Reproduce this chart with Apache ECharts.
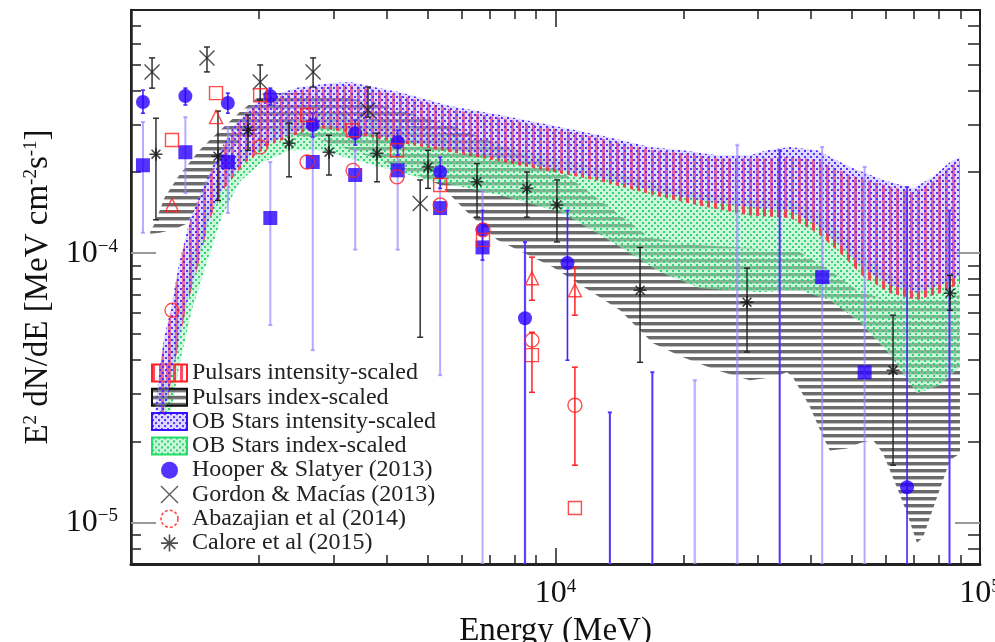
<!DOCTYPE html>
<html><head><meta charset="utf-8">
<script src="https://cdn.jsdelivr.net/npm/echarts@6/dist/echarts.min.js"></script>
<style>html,body{margin:0;padding:0;background:#fff}#c{width:995px;height:642px}</style>
</head><body><div id="c"></div>
<script>
// ---------------- tick values ----------------
const xMajorTicks = [10000, 100000];
const xMinorTicks = [2000,3000,4000,5000,6000,7000,8000,9000,20000,30000,40000,50000,60000,70000,80000,90000];
const yMajorTicks = [1e-5, 1e-4];
const yMinorTicks = [8e-6,9e-6,2e-5,3e-5,4e-5,5e-5,6e-5,7e-5,8e-5,9e-5,2e-4,3e-4,4e-4,5e-4,6e-4,7e-4];

// ---------------- bands [E (MeV), E^2 dN/dE] ----------------
const pulsarIntUpper = [[1150,2.61e-5],[1170,3.73e-5],[1200,4.83e-5],[1240,5.98e-5],[1300,9.03e-5],[1380,1.32e-4],[1450,1.60e-4],[1590,2.21e-4],[1740,2.87e-4],[1905,3.40e-4],[2090,3.71e-4],[2280,3.86e-4],[2500,4.04e-4],[2940,4.17e-4],[3280,4.21e-4],[3860,4.00e-4],[4300,3.86e-4],[5640,3.43e-4],[7400,3.18e-4],[10250,2.87e-4],[12730,2.67e-4],[16700,2.42e-4],[19970,2.35e-4],[24000,2.25e-4],[28700,2.25e-4],[31500,2.25e-4],[35700,2.28e-4],[41300,2.22e-4],[49400,1.95e-4],[59100,1.80e-4],[69500,1.68e-4],[77500,1.85e-4],[85000,2.10e-4],[89700,2.20e-4]];
const pulsarIntLower = [[1200,2.50e-5],[1260,3.73e-5],[1340,5.98e-5],[1440,9.03e-5],[1535,1.35e-4],[1665,1.75e-4],[1855,2.16e-4],[2125,2.52e-4],[2500,2.79e-4],[2790,2.92e-4],[4300,2.57e-4],[7400,2.19e-4],[12730,1.85e-4],[17630,1.62e-4],[21900,1.50e-4],[28700,1.38e-4],[35700,1.35e-4],[41300,1.19e-4],[46800,1.00e-4],[53000,8.2e-5],[61400,7.1e-5],[71050,6.7e-5],[80500,7.1e-5],[89700,7.7e-5]];

const obIntUpper = [[1140,2.61e-5],[1170,3.83e-5],[1200,4.95e-5],[1240,6.13e-5],[1300,9.26e-5],[1380,1.35e-4],[1450,1.64e-4],[1590,2.27e-4],[1740,2.94e-4],[1905,3.49e-4],[2090,3.80e-4],[2280,3.96e-4],[2500,4.14e-4],[2940,4.28e-4],[3280,4.32e-4],[3860,4.10e-4],[4300,3.96e-4],[5640,3.52e-4],[7400,3.26e-4],[10250,2.94e-4],[12730,2.74e-4],[16700,2.48e-4],[19970,2.41e-4],[24000,2.31e-4],[28700,2.31e-4],[31500,2.41e-4],[35700,2.48e-4],[41300,2.41e-4],[49400,2.09e-4],[59100,1.87e-4],[69500,1.74e-4],[77500,1.92e-4],[85000,2.18e-4],[89700,2.27e-4]];
const obIntLower = [[1200,2.56e-5],[1260,3.83e-5],[1340,6.13e-5],[1440,9.26e-5],[1535,1.38e-4],[1665,1.79e-4],[1855,2.22e-4],[2125,2.58e-4],[2500,2.86e-4],[2790,2.99e-4],[4300,2.63e-4],[7400,2.25e-4],[12730,1.90e-4],[17630,1.68e-4],[21900,1.57e-4],[28700,1.48e-4],[35700,1.44e-4],[41300,1.27e-4],[46800,1.07e-4],[53000,8.79e-5],[61400,7.60e-5],[71050,7.16e-5],[80500,7.60e-5],[89700,8.27e-5]];

const obIdxUpper = [[1170,2.56e-5],[1220,3.83e-5],[1290,6.13e-5],[1380,9.26e-5],[1480,1.38e-4],[1590,1.87e-4],[1805,2.41e-4],[2125,2.91e-4],[2500,3.17e-4],[2940,3.31e-4],[4300,2.99e-4],[7400,2.52e-4],[12730,2.07e-4],[17630,1.79e-4],[21900,1.67e-4],[28700,1.59e-4],[35700,1.57e-4],[41300,1.42e-4],[46800,1.20e-4],[53000,9.83e-5],[61400,8.27e-5],[71050,7.60e-5],[80500,7.93e-5],[89700,8.64e-5]];
const obIdxLower = [[1240,2.52e-5],[1300,3.83e-5],[1390,6.13e-5],[1510,9.26e-5],[1640,1.38e-4],[1805,1.84e-4],[2015,2.15e-4],[2370,2.41e-4],[2790,2.41e-4],[4800,1.90e-4],[7400,1.64e-4],[10250,1.42e-4],[12730,1.17e-4],[17630,8.5e-5],[21900,7.41e-5],[30300,7.16e-5],[37670,7.28e-5],[44300,6.68e-5],[52150,5.54e-5],[61400,4.18e-5],[71050,3.01e-5],[80500,3.23e-5],[89700,3.77e-5]];

const pulsarIdxUpper = [[1110,1.20e-4],[1140,1.30e-4],[1200,1.61e-4],[1300,1.95e-4],[1450,2.41e-4],[1560,2.70e-4],[1805,3.34e-4],[2050,3.93e-4],[2500,3.93e-4],[3280,3.77e-4],[4300,3.40e-4],[5640,2.99e-4],[7400,2.52e-4],[10250,2.03e-4],[12730,1.57e-4],[16700,1.14e-4],[21900,1.07e-4],[30300,1.04e-4],[37670,1.01e-4],[44300,8.64e-5],[52150,7.16e-5],[61400,6.68e-5],[71050,6.68e-5],[80500,6.8e-5],[89700,6.98e-5]];
const pulsarIdxLower = [[1110,1.18e-4],[1170,1.19e-4],[1270,1.23e-4],[1360,1.29e-4],[1450,1.57e-4],[1590,2.12e-4],[1805,2.63e-4],[2125,2.86e-4],[2790,2.63e-4],[3860,2.22e-4],[5350,1.79e-4],[6190,1.42e-4],[7280,1.12e-4],[9870,8.87e-5],[14190,6.13e-5],[16970,4.63e-5],[19970,4.10e-5],[24000,3.67e-5],[28700,3.37e-5],[32500,3.46e-5],[35100,3.61e-5],[36260,3.46e-5],[39770,2.68e-5],[42700,2.07e-5],[44300,1.85e-5],[48600,1.88e-5],[52150,1.97e-5],[55960,2.02e-5],[59100,1.80e-5],[63700,1.35e-5],[67300,1.08e-5],[71050,8.4e-6],[73400,8.79e-6],[79200,1.24e-5],[85000,1.70e-5],[89700,1.80e-5]];

// ---------------- data points [E, value, low, high] ----------------
const hooperCircles = [[1067,3.64e-4,3.31e-4,4.03e-4],[1343,3.83e-4,3.55e-4,4.10e-4],[1691,3.61e-4,3.31e-4,3.93e-4],[2129,3.83e-4,3.55e-4,4.10e-4],[2680,2.99e-4,2.70e-4,3.31e-4],[3374,2.79e-4,2.52e-4,3.12e-4],[4248,2.58e-4,2.31e-4,2.86e-4],[5348,2.00e-4,1.74e-4,2.27e-4],[6732,1.22e-4,9.42e-5,1.44e-4],[8475,5.73e-5,7e-6,1.10e-4],[10670,9.18e-5,4.00e-5,1.44e-4],[67320,1.35e-5,7e-6,1.76e-4]];
const hooperSquares = [[1067,2.12e-4,1.19e-4,3.07e-4],[1343,2.37e-4,1.67e-4,3.20e-4],[1691,2.18e-4,1.41e-4,2.94e-4],[2129,1.35e-4,5.40e-5,2.18e-4],[2680,2.18e-4,4.36e-5,2.99e-4],[3374,1.95e-4,1.03e-4,2.41e-4],[4248,2.03e-4,1.03e-4,2.58e-4],[5348,1.47e-4,3.52e-5,2.03e-4],[6732,1.05e-4,7e-6,1.71e-4],[42480,8.14e-5,7e-6,2.48e-4],[53480,3.61e-5,7e-6,2.09e-4]];
// error bars whose central values fall below the plotted range [E, low, high]
const hooperLimitsDark = [[13430,7e-6,2.56e-5],[16910,7e-6,3.61e-5],[33740,7e-6,2.41e-4],[84750,7e-6,1.44e-4]];
const hooperLimitsLight = [[8475,7e-6,1.10e-4],[21290,7e-6,3.37e-5],[26800,7e-6,2.52e-4]];

const gordon = [[1121,4.71e-4,4.10e-4,5.31e-4],[1510,5.31e-4,4.71e-4,5.83e-4],[2015,4.32e-4,3.70e-4,5.0e-4],[2685,4.71e-4,4.14e-4,5.31e-4],[3616,3.40e-4,3.20e-4,4.14e-4],[4800,1.53e-4,4.87e-5,1.87e-4]];
const calore = [[1145,2.33e-4,1.33e-4,3.17e-4],[1603,2.29e-4,1.57e-4,3.37e-4],[1887,2.86e-4,2.41e-4,3.26e-4],[2357,2.56e-4,1.92e-4,3.04e-4],[2927,2.37e-4,1.95e-4,2.74e-4],[3798,2.35e-4,1.84e-4,2.79e-4],[5009,2.09e-4,1.74e-4,2.41e-4],[6533,1.84e-4,1.36e-4,2.15e-4],[8566,1.74e-4,1.36e-4,2.00e-4],[10080,1.51e-4,1.10e-4,1.87e-4],[15820,7.28e-5,3.93e-5,1.05e-4],[28260,6.57e-5,4.29e-5,8.79e-5],[62400,3.67e-5,1.63e-5,5.88e-5],[85000,7.10e-5,6.13e-5,8.27e-5]];

const abazCircles = [[1249,6.13e-5],[2015,2.48e-4],[2598,2.18e-4],[3334,2.03e-4],[4232,1.92e-4],[5350,1.51e-4],[6750,1.22e-4],[8801,4.75e-5],[11110,2.72e-5]];
const abazSquares = [[1249,2.63e-4],[1586,3.93e-4],[2015,3.86e-4],[2598,3.26e-4],[3334,2.86e-4],[4232,2.41e-4],[5350,1.79e-4],[6750,1.12e-4],[8801,4.18e-5],[11110,1.13e-5]];
const abazTriangles = [[1249,1.51e-4],[1586,3.20e-4],[8801,8.07e-5],[11110,7.28e-5]];
const abazErr = [[8801,3.04e-5,5.08e-5],[8801,6.68e-5,9.66e-5],[11110,1.63e-5,3.77e-5],[11110,5.88e-5,8.87e-5]];

// ---------------- styling helpers ----------------
function pattern(w, h, draw) {
  const c = document.createElement('canvas'); c.width = w; c.height = h;
  draw(c.getContext('2d')); return {image: c, repeat: 'repeat'};
}
const redPat = pattern(7, 4, g => { g.fillStyle = 'rgba(255,30,60,0.8)'; g.fillRect(0,0,3,4); });
const bluePat = pattern(6, 6, g => { g.fillStyle = 'rgba(175,160,255,0.4)'; g.fillRect(0,0,6,6); g.fillStyle = 'rgba(80,40,255,0.95)'; g.fillRect(0,0,2,2); g.fillRect(3,3,2,2); });
const greenPat = pattern(6, 6, g => { g.fillStyle = 'rgba(160,240,190,0.55)'; g.fillRect(0,0,6,6); g.fillStyle = 'rgba(40,205,110,0.9)'; g.fillRect(0,0,2,2); g.fillRect(3,3,2,2); });
const greyPat = pattern(4, 7, g => { g.fillStyle = 'rgba(70,70,70,0.8)'; g.fillRect(0,0,4,3); g.fillStyle = 'rgba(150,150,150,0.6)'; g.fillRect(0,3,4,1); });

const SERIF = 'Liberation Serif';
const crossPath = 'path://M0,0L10,10M10,0L0,10';
const starPath = 'path://M5,0L5,10M0,5L10,5M1.6,1.6L8.4,8.4M8.4,1.6L1.6,8.4';

function band(name, upper, lower, fill, z) {
  return {
    name, type: 'custom', z, silent: true, data: upper, clip: true,
    itemStyle: {color: fill},
    renderItem: function (params, api) {
      if (params.dataIndex !== 0) return null;
      const pts = upper.map(p => api.coord(p)).concat(lower.slice().reverse().map(p => api.coord(p)));
      return {type: 'polygon', shape: {points: pts}, style: {fill: fill}};
    }
  };
}
function errBars(data, iLo, iHi, color, width, cap) {
  return {
    type: 'custom', z: 8, silent: true, data, clip: true,
    renderItem: function (params, api) {
      const x = api.value(0);
      const a = api.coord([x, api.value(iLo)]), b = api.coord([x, api.value(iHi)]);
      const st = {stroke: color, lineWidth: width};
      return {type: 'group', children: [
        {type: 'line', shape: {x1: a[0], y1: a[1], x2: b[0], y2: b[1]}, style: st},
        {type: 'line', shape: {x1: a[0]-cap, y1: a[1], x2: a[0]+cap, y2: a[1]}, style: st},
        {type: 'line', shape: {x1: b[0]-cap, y1: b[1], x2: b[0]+cap, y2: b[1]}, style: st}
      ]};
    }
  };
}
function scatter(name, data, symbol, size, style, z) {
  return {name, type: 'scatter', data, symbol, symbolSize: size, itemStyle: style, z: z || 10, silent: true, encode: {x: 0, y: 1}};
}

const supRich = {
  b: {fontFamily: SERIF, fontSize: 32, color: '#111'},
  s: {fontFamily: SERIF, fontSize: 19, color: '#111', verticalAlign: 'top'}
};
function expLabel(v) {
  const e = Math.round(Math.log10(v));
  return '{b|10}{s|' + (e < 0 ? '\u2212' + (-e) : e) + '}';
}
const tickLine = {color: '#222', width: 1.5};
function logX(extra) {
  return Object.assign({type: 'log', logBase: 10, min: 1000, max: 100000, splitLine: {show: false},
    axisLine: {show: false}, axisLabel: {show: false}, axisTick: {show: false}}, extra);
}
function logY(extra) {
  return Object.assign({type: 'log', logBase: 10, min: 7e-6, max: 8e-4, splitLine: {show: false},
    axisLine: {show: false}, axisLabel: {show: false}, axisTick: {show: false}}, extra);
}

const option = {
  animation: false,
  backgroundColor: '#fff',
  grid: {left: 131, right: 15, top: 10, bottom: 78, show: true, borderColor: '#222', borderWidth: 2,
    containLabel: false, outerBoundsMode: 'none'},
  xAxis: [
    logX({position: 'bottom',
      axisLine: {show: true, lineStyle: {color: '#222', width: 3}},
      axisTick: {show: true, inside: true, length: 16, customValues: xMajorTicks, lineStyle: tickLine},
      axisLabel: {show: true, customValues: xMajorTicks, margin: 14, formatter: expLabel, rich: supRich},
      name: 'Energy (MeV)', nameLocation: 'middle', nameGap: 44,
      nameTextStyle: {fontFamily: SERIF, fontSize: 33, color: '#111'}}),
    logX({position: 'bottom', axisTick: {show: true, inside: true, length: 9, customValues: xMinorTicks, lineStyle: tickLine}}),
    logX({position: 'top', axisTick: {show: true, inside: true, length: 17, customValues: xMajorTicks, lineStyle: tickLine}}),
    logX({position: 'top', axisTick: {show: true, inside: true, length: 9, customValues: xMinorTicks, lineStyle: tickLine}})
  ],
  yAxis: [
    logY({position: 'left',
      axisLine: {show: true, lineStyle: {color: '#222', width: 2.5}},
      axisTick: {show: true, inside: true, length: 25, customValues: yMajorTicks, lineStyle: {color: '#999', width: 2}},
      axisLabel: {show: true, customValues: yMajorTicks, margin: 13, formatter: expLabel, rich: supRich},
      name: '{n|E}{s|2}{n| dN/dE [MeV cm}{s|-2}{n|s}{s|-1}{n|]}', nameLocation: 'middle', nameGap: 72, nameRotate: 90,
      nameTextStyle: {rich: {n: {fontFamily: SERIF, fontSize: 33, color: '#111'}, s: {fontFamily: SERIF, fontSize: 19, color: '#111', verticalAlign: 'top'}}}}),
    logY({position: 'left', axisTick: {show: true, inside: true, length: 10, customValues: yMinorTicks, lineStyle: tickLine}}),
    logY({position: 'right', axisTick: {show: true, inside: true, length: 25, customValues: yMajorTicks, lineStyle: {color: '#999', width: 2}}}),
    logY({position: 'right', axisTick: {show: true, inside: true, length: 12, customValues: yMinorTicks, lineStyle: tickLine}})
  ],
  legend: {
    orient: 'vertical', left: 146, top: 356, padding: 5, itemWidth: 35, itemHeight: 17, itemGap: 0.3, selectedMode: false,
    textStyle: {fontFamily: SERIF, fontSize: 24, lineHeight: 22, color: '#222'},
    data: [
      {name: 'Pulsars intensity-scaled', icon: 'rect', itemStyle: {color: redPat, borderColor: '#ff2020', borderWidth: 2}},
      {name: 'Pulsars index-scaled', icon: 'rect', itemStyle: {color: greyPat, borderColor: '#111', borderWidth: 2}},
      {name: 'OB Stars intensity-scaled', icon: 'rect', itemStyle: {color: bluePat, borderColor: '#3a10ff', borderWidth: 2}},
      {name: 'OB Stars index-scaled', icon: 'rect', itemStyle: {color: greenPat, borderColor: '#22dd66', borderWidth: 2}},
      {name: 'Hooper & Slatyer (2013)', icon: 'circle', itemStyle: {color: '#2a00ff'}},
      {name: 'Gordon & Macías (2013)', icon: crossPath, itemStyle: {color: 'rgba(0,0,0,0)', borderColor: '#333', borderWidth: 1.4}},
      {name: 'Abazajian et al (2014)', icon: 'circle', itemStyle: {color: 'rgba(0,0,0,0)', borderColor: '#ff2020', borderWidth: 1.6, borderType: [3, 2]}},
      {name: 'Calore et al (2015)', icon: starPath, itemStyle: {color: 'rgba(0,0,0,0)', borderColor: '#222', borderWidth: 1.6}}
    ]
  },
  series: [
    band('Pulsars index-scaled', pulsarIdxUpper, pulsarIdxLower, greyPat, 1),
    band('OB Stars index-scaled', obIdxUpper, obIdxLower, greenPat, 2),
    band('Pulsars intensity-scaled', pulsarIntUpper, pulsarIntLower, redPat, 3),
    band('OB Stars intensity-scaled', obIntUpper, obIntLower, bluePat, 4),
    errBars(hooperSquares, 2, 3, 'rgba(150,135,255,0.7)', 2, 2),
    errBars(hooperLimitsLight, 1, 2, 'rgba(150,135,255,0.6)', 2.5, 2),
    errBars(hooperCircles, 2, 3, '#4a20ff', 1.6, 2),
    errBars(hooperLimitsDark, 1, 2, '#5a30ff', 2, 2),
    errBars(gordon, 2, 3, '#222', 1.4, 3),
    errBars(calore, 2, 3, '#222', 1.4, 3),
    errBars(abazErr, 1, 2, '#ff2020', 1.5, 3),
    scatter('Hooper & Slatyer (2013)', hooperCircles, 'circle', 14, {color: '#2a00ff'}, 12),
    scatter('Hooper squares', hooperSquares, 'rect', 14, {color: '#2a00ff'}, 12),
    scatter('Gordon & Macías (2013)', gordon, crossPath, 15, {color: 'rgba(0,0,0,0)', borderColor: '#222', borderWidth: 1.4}, 11),
    scatter('Calore et al (2015)', calore, starPath, 13, {color: 'rgba(0,0,0,0)', borderColor: '#111', borderWidth: 1.5}, 11),
    scatter('Abazajian et al (2014)', abazCircles, 'circle', 14, {color: 'rgba(0,0,0,0)', borderColor: '#ff2020', borderWidth: 1.4}, 13),
    scatter('Abazajian squares', abazSquares, 'rect', 13, {color: 'rgba(0,0,0,0)', borderColor: '#ff2020', borderWidth: 1.4}, 13),
    scatter('Abazajian triangles', abazTriangles, 'triangle', 13, {color: 'rgba(0,0,0,0)', borderColor: '#ff2020', borderWidth: 1.4}, 13)
  ]
};
const chart = echarts.init(document.getElementById('c'), null, {renderer: 'canvas'});
chart.setOption(option);
</script></body></html>
